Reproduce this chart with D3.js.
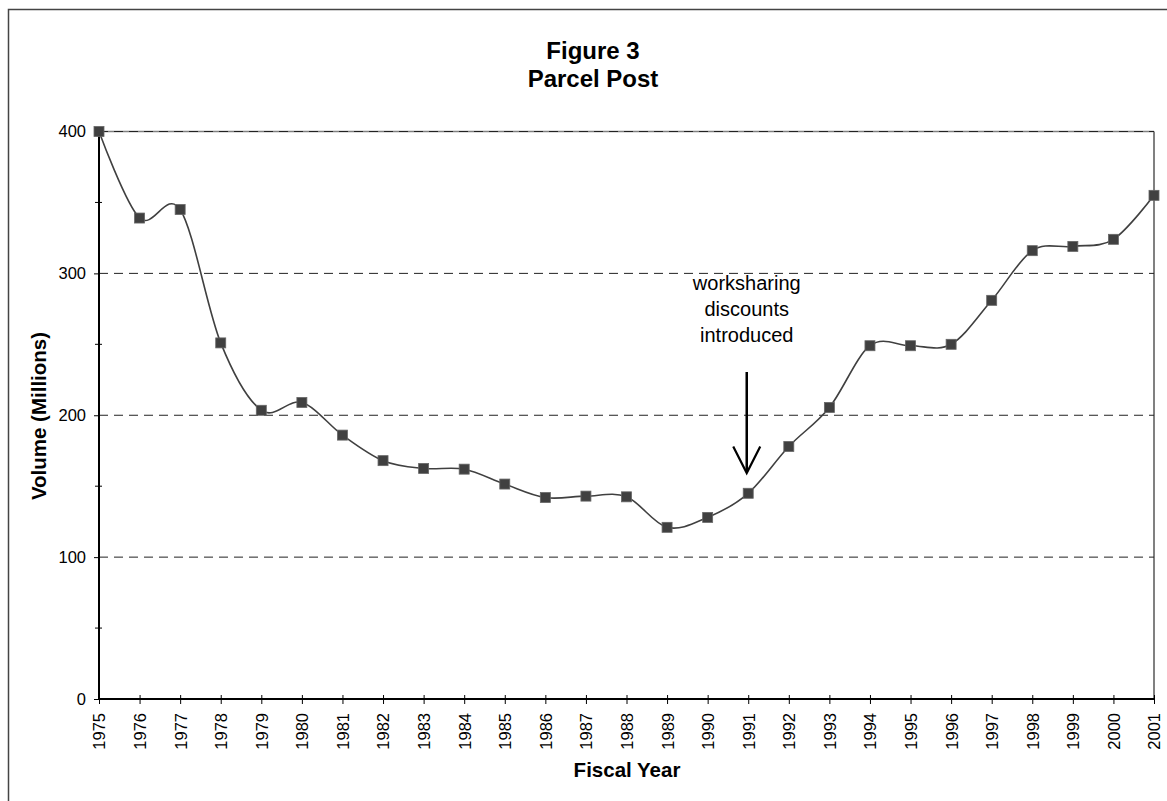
<!DOCTYPE html>
<html>
<head>
<meta charset="utf-8">
<script src="https://cdn.jsdelivr.net/npm/d3@7"></script>
<style>
  body { margin: 0; background: #fff; }
  svg { display: block; font-family: "Liberation Sans", Arial, sans-serif; }
</style>
</head>
<body>
<svg id="chart" width="1167" height="801"></svg>
<script>
// fiscal years and parcel post volume (millions)
const years = [1975, 1976, 1977, 1978, 1979, 1980, 1981, 1982, 1983, 1984, 1985, 1986, 1987, 1988,
  1989, 1990, 1991, 1992, 1993, 1994, 1995, 1996, 1997, 1998, 1999, 2000, 2001]
const volume = [400, 339, 345, 251, 203.5, 209, 186, 168, 162.5, 162, 151.5, 142, 143, 142.5,
  121, 128, 145, 178, 205.5, 249, 249, 250, 281, 316, 319, 324, 355]
const majorTicks = [0, 100, 200, 300, 400]
const minorTicks = [50, 150, 250, 350]
const titleLines = ["Figure 3", "Parcel Post"]
const noteLines = ["worksharing", "discounts", "introduced"]
const noteYear = 1991

const svg = d3.select("#chart")
const margin = { top: 131.5, right: 13, bottom: 102, left: 99 }
const width = +svg.attr("width") - margin.left - margin.right
const height = +svg.attr("height") - margin.top - margin.bottom

const data = years.map(function(y, i) { return { year: y, value: volume[i] } })

// outer chart border (runs past the window on right and bottom)
svg.append("rect")
    .attr("x", 8.5).attr("y", 9.5)
    .attr("width", 1180).attr("height", 820)
    .attr("fill", "none")
    .attr("stroke", "#444")
    .attr("stroke-width", 1.5)

const g = svg.append("g")
    .attr("transform", "translate(" + margin.left + "," + margin.top + ")")

const x = d3.scaleLinear().domain([1975, 2001]).range([0, width])
const y = d3.scaleLinear().domain([0, 400]).range([height, 0])

// plot area border: top and right
g.append("line")
    .attr("x1", 0).attr("x2", width).attr("y1", 0).attr("y2", 0)
    .attr("stroke", "#808080").attr("stroke-width", 1.5)
g.append("line")
    .attr("x1", width).attr("x2", width).attr("y1", 0).attr("y2", height)
    .attr("stroke", "#808080").attr("stroke-width", 2)

// dashed gridlines
g.selectAll(".grid")
  .data(majorTicks.filter(function(d) { return d > 0 }))
  .enter().append("line")
    .attr("class", "grid")
    .attr("x1", 0).attr("x2", width)
    .attr("y1", function(d) { return y(d) })
    .attr("y2", function(d) { return y(d) })
    .attr("stroke", "#222")
    .attr("stroke-width", 1)
    .attr("stroke-dasharray", "9,6")

// y axis
const yAxis = g.append("g")
    .attr("class", "axis axis--y")
    .call(d3.axisLeft(y).tickValues(majorTicks).tickSize(5).tickPadding(8))
yAxis.select(".domain").attr("stroke-width", 2).attr("d", "M0," + height + "V0")
yAxis.selectAll("text").attr("font-size", 16.5).attr("font-family", "Liberation Sans, Arial, sans-serif").attr("fill", "#000")

g.selectAll(".minor")
  .data(minorTicks)
  .enter().append("line")
    .attr("class", "minor")
    .attr("x1", -4).attr("x2", 3)
    .attr("y1", function(d) { return y(d) })
    .attr("y2", function(d) { return y(d) })
    .attr("stroke", "#000")

// x axis
const xAxis = g.append("g")
    .attr("class", "axis axis--x")
    .attr("transform", "translate(0," + height + ")")
    .call(d3.axisBottom(x).tickValues(years).tickFormat(d3.format("d")).tickSize(5))
xAxis.select(".domain").attr("stroke-width", 2).attr("d", "M0,0H" + width)
xAxis.selectAll(".tick line").attr("y1", -4)
xAxis.selectAll("text")
    .attr("font-size", 16.5)
    .attr("font-family", "Liberation Sans, Arial, sans-serif")
    .attr("fill", "#000")
    .attr("text-anchor", "end")
    .attr("transform", "rotate(-90)")
    .attr("x", -14)
    .attr("y", 0)
    .attr("dy", "0.36em")

// series
const line = d3.line()
    .x(function(d) { return x(d.year) })
    .y(function(d) { return y(d.value) })
    .curve(d3.curveCatmullRom.alpha(0))

g.append("path")
    .datum(data)
    .attr("fill", "none")
    .attr("stroke", "#404040")
    .attr("stroke-width", 1.6)
    .attr("d", line)

g.selectAll(".pt")
  .data(data)
  .enter().append("rect")
    .attr("class", "pt")
    .attr("x", function(d) { return x(d.year) - 5 })
    .attr("y", function(d) { return y(d.value) - 5 })
    .attr("width", 10)
    .attr("height", 10)
    .attr("fill", "#404040")
    .attr("stroke", "#666")
    .attr("stroke-width", 0.8)

// annotation with arrow
const ax = x(noteYear) - 1.5
g.append("g")
    .selectAll("text")
  .data(noteLines)
  .enter().append("text")
    .attr("x", ax)
    .attr("y", function(d, i) { return 290 - margin.top + i * 25.8 })
    .attr("text-anchor", "middle")
    .attr("font-size", 20)
    .attr("fill", "#000")
    .text(function(d) { return d })

g.append("line")
    .attr("x1", ax).attr("x2", ax)
    .attr("y1", 372 - margin.top).attr("y2", 472 - margin.top)
    .attr("stroke", "#000").attr("stroke-width", 2.5)
g.append("path")
    .attr("d", "M" + (ax - 13.5) + "," + (446.5 - margin.top) + "L" + ax + "," + (473 - margin.top) +
      "L" + (ax + 13.5) + "," + (446.5 - margin.top))
    .attr("fill", "none").attr("stroke", "#000").attr("stroke-width", 2.2)

// titles
svg.append("g")
    .selectAll("text")
  .data(titleLines)
  .enter().append("text")
    .attr("x", 593)
    .attr("y", function(d, i) { return 59 + i * 28 })
    .attr("text-anchor", "middle")
    .attr("font-size", 24)
    .attr("font-weight", "bold")
    .text(function(d) { return d })

svg.append("text")
    .attr("transform", "translate(46,416) rotate(-90)")
    .attr("text-anchor", "middle")
    .attr("font-size", 20.5)
    .attr("font-weight", "bold")
    .text("Volume (Millions)")

svg.append("text")
    .attr("x", 627)
    .attr("y", 777)
    .attr("text-anchor", "middle")
    .attr("font-size", 20.5)
    .attr("font-weight", "bold")
    .text("Fiscal Year")
</script>
</body>
</html>
